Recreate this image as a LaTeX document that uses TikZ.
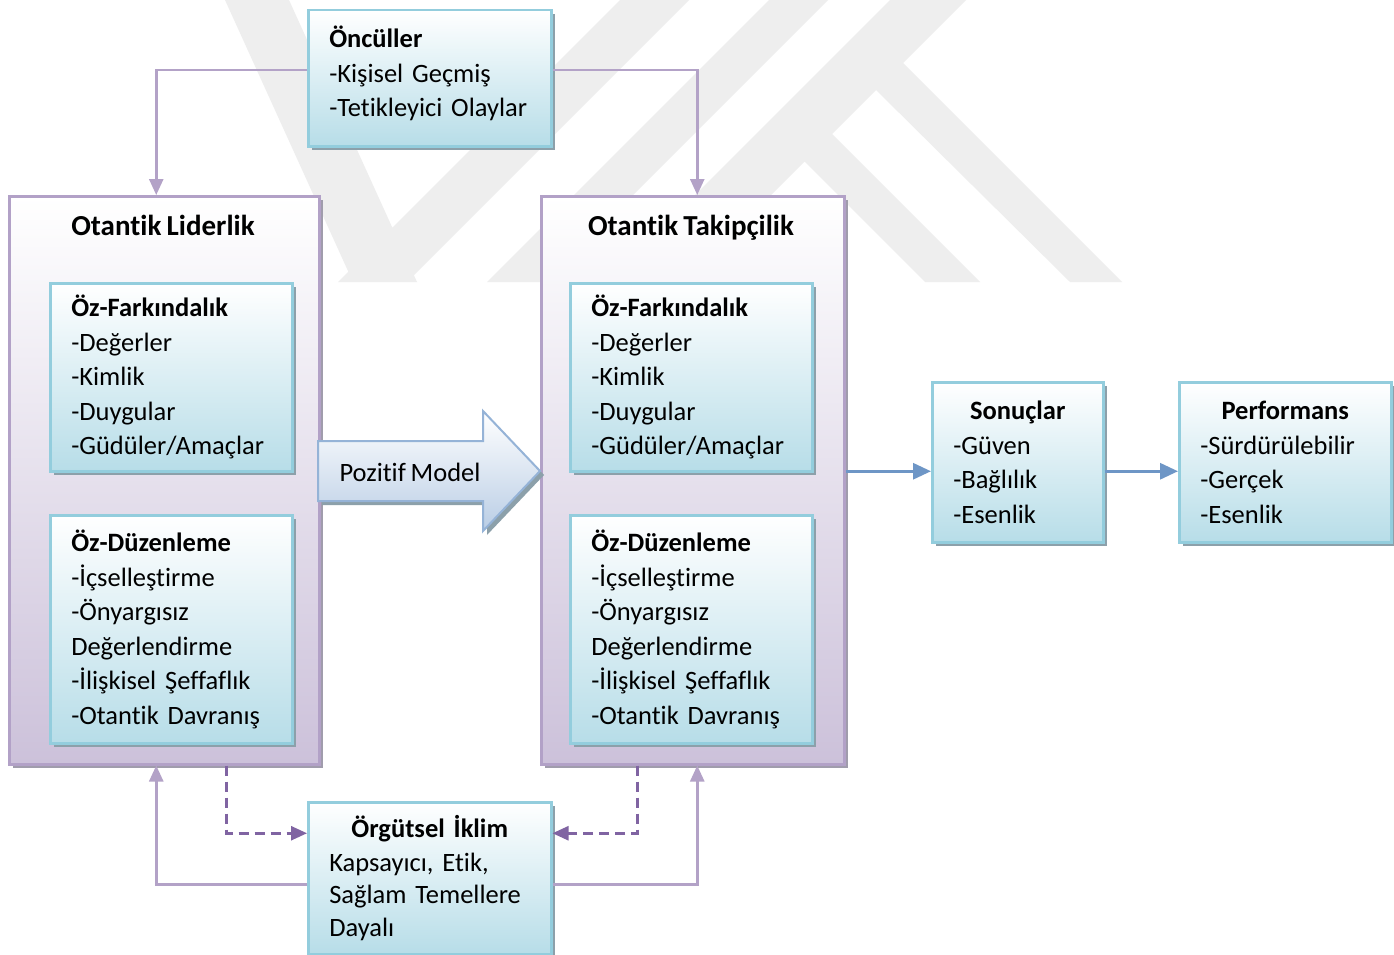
\documentclass[tikz,border=0pt]{standalone}
\usepackage{fontspec}
\setmainfont{Carlito}[Ligatures={NoCommon},WordSpace=0.8]
\usetikzlibrary{arrows.meta,shadows}
\definecolor{bluebd}{RGB}{147,205,221}
\definecolor{bluebot}{RGB}{183,221,232}
\definecolor{purbd}{RGB}{178,161,199}
\definecolor{purbot}{RGB}{204,193,218}
\definecolor{shd}{RGB}{140,160,170}
\definecolor{pshd}{RGB}{160,156,172}
\definecolor{linep}{RGB}{179,162,199}
\definecolor{dashp}{RGB}{128,100,162}
\definecolor{lineb}{RGB}{110,150,198}
\definecolor{arrbd}{RGB}{149,179,215}
\definecolor{arrbot}{RGB}{185,205,229}
\definecolor{wmark}{RGB}{238,238,238}
\begin{document}
\begin{tikzpicture}[x=1pt,y=-1pt,
  bodyfont/.style={font=\fontsize{26.5}{34.5}\selectfont},
  bluebox/.style={bodyfont, draw=bluebd, line width=2.5pt, top color=white, bottom color=bluebot,
    general shadow={fill=shd, shadow xshift=4pt, shadow yshift=-4pt},
    anchor=north west, inner xsep=21pt, inner ysep=0pt, align=left},
  purbox/.style={draw=purbd, line width=2.5pt, top color=white, bottom color=purbot,
    general shadow={fill=pshd, shadow xshift=4pt, shadow yshift=-4pt},
    anchor=north west, inner sep=0pt},
  bigtitle/.style={font=\fontsize{29}{34}\selectfont\bfseries, anchor=base},
  pline/.style={draw=linep, line width=2.5pt, -{Triangle[length=16pt,width=14pt]}},
  dline/.style={draw=dashp, line width=2.5pt, dash pattern=on 10pt off 6pt, -{Triangle[length=16pt,width=14pt]}},
  bline/.style={draw=lineb, line width=3pt, -{Triangle[length=18pt,width=16pt]}},
  posarrow/.style={draw=arrbd, line width=2pt, top color=white, bottom color=arrbot}
]
\useasboundingbox (0,0) rectangle (1394,955);
\fill[white] (0,0) rectangle (1394,955);

% faint background watermark
\fill[wmark] (225,0) -- (289,0) -- (417,282) -- (353,282) -- cycle
  (620,0) -- (689,0) -- (407,282) -- (338,282) -- cycle
  (769,0) -- (828,0) -- (546,282) -- (487,282) -- cycle
  (890,0) -- (966,0) -- (684,282) -- (608,282) -- cycle
  (903,63) -- (1122,282) -- (1070,282) -- (876,90) -- cycle
  (828,130) -- (980,282) -- (925,282) -- (800,157) -- cycle;

% big boxes
\node[purbox, minimum width=310pt, minimum height=568pt] (lider) at (8,195) {};
\node[purbox, minimum width=303pt, minimum height=568pt] (takip) at (540,195) {};
\node[bigtitle] (lidert) at (163,235) {Otantik Liderlik};
\node[bigtitle] (takipt) at (691,235) {Otantik Takipçilik};

% inner boxes
\node[bluebox, minimum width=242pt, minimum height=188pt, text width=200pt] (lfark) at (49,282)
  {\textbf{Öz-Farkındalık}\\-Değerler\\-Kimlik\\-Duygular\\-Güdüler/Amaçlar};
\node[bluebox, minimum width=242pt, minimum height=228pt, text width=200pt] (lduz) at (49,514)
  {\textbf{Öz-Düzenleme}\\-İçselleştirme\\-Önyargısız\\Değerlendirme\\-İlişkisel Şeffaflık\\-Otantik Davranış};
\node[bluebox, minimum width=242pt, minimum height=188pt, text width=200pt] (rfark) at (569,282)
  {\textbf{Öz-Farkındalık}\\-Değerler\\-Kimlik\\-Duygular\\-Güdüler/Amaçlar};
\node[bluebox, minimum width=242pt, minimum height=228pt, text width=200pt] (rduz) at (569,514)
  {\textbf{Öz-Düzenleme}\\-İçselleştirme\\-Önyargısız\\Değerlendirme\\-İlişkisel Şeffaflık\\-Otantik Davranış};

% top / bottom / right boxes
\node[bluebox, minimum width=243pt, minimum height=136pt, text width=201pt] (oncul) at (307,9)
  {\textbf{Öncüller}\\-Kişisel Geçmiş\\-Tetikleyici Olaylar\\[-21pt]\mbox{}};
\node[bluebox, minimum width=243pt, minimum height=152pt, text width=201pt] (orgut) at (307,801)
  {\makebox[\linewidth][c]{\textbf{Örgütsel İklim}}\\[-1pt]Kapsayıcı, Etik,\\[-2pt]Sağlam Temellere\\[-2pt]Dayalı\\[-30pt]\mbox{}};
\node[bluebox, minimum width=171pt, minimum height=160pt, text width=129pt] (sonuc) at (931,381)
  {\makebox[\linewidth][c]{\textbf{Sonuçlar}}\\-Güven\\-Bağlılık\\-Esenlik};
\node[bluebox, minimum width=212pt, minimum height=160pt, text width=170pt] (perf) at (1178,381)
  {\makebox[\linewidth][c]{\textbf{Performans}}\\-Sürdürülebilir\\-Gerçek\\-Esenlik};

% Pozitif Model arrow
\fill[shd] (322,445) -- (487,445) -- (487,415) -- (544,475) -- (487,535) -- (487,505) -- (322,505) -- cycle;
\path[posarrow] (318,441) -- (483,441) -- (483,411) -- (540,471) -- (483,531) -- (483,501) -- (318,501) -- cycle;
\node[bodyfont] (pozt) at (410,472) {Pozitif Model};

% connectors
\draw[pline] ([yshift=8pt]oncul.west) -| ([xshift=-8pt]lider.north);
\draw[pline] ([yshift=8pt]oncul.east) -| ([xshift=4.5pt]takip.north);
\draw[pline] ([yshift=-6pt]orgut.west) -| ([xshift=-8pt]lider.south);
\draw[pline] ([yshift=-6pt]orgut.east) -| ([xshift=4.5pt]takip.south);
\draw[dline] ([xshift=62pt]lider.south) |- ([yshift=45pt]orgut.west);
\draw[dline] ([xshift=-55.5pt]takip.south) |- ([yshift=45pt]orgut.east);
\draw[bline] ([yshift=9pt]takip.east) -- ([yshift=-9pt]sonuc.west);
\draw[bline] ([yshift=-9pt]sonuc.east) -- ([yshift=-9pt]perf.west);
\end{tikzpicture}
\end{document}
